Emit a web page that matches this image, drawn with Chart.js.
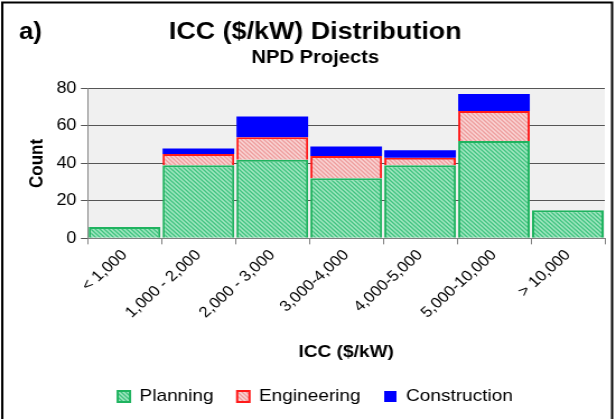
<!DOCTYPE html>
<html>
<head>
<meta charset="utf-8">
<script src="https://cdn.jsdelivr.net/npm/chart.js@4"></script>
<style>
  html, body { margin: 0; padding: 0; background: #fff; overflow: hidden; }
  /* the reference is a horizontally stretched figure: draw narrower, then stretch */
  #wrap { width: 549px; height: 419px; position: relative; transform: scaleX(1.12); transform-origin: 0 0; }
</style>
</head>
<body>
<div id="wrap"><canvas id="myChart"></canvas></div>
<script>
const categories = ['< 1,000', '1,000 - 2,000', '2,000 - 3,000', '3,000-4,000', '4,000-5,000', '5,000-10,000', '> 10,000'];
const planning = [6, 39, 42, 32, 39, 52, 15];
const engineering = [0, 6, 12, 12, 4, 16, 0];
const construction = [0, 3, 11, 5, 4, 9, 0];

function hatch(base, line) {
  const c = document.createElement('canvas');
  c.width = 4; c.height = 4;
  const g = c.getContext('2d');
  g.fillStyle = base;
  g.fillRect(0, 0, 4, 4);
  g.strokeStyle = line;
  g.lineWidth = 1.3;
  g.beginPath();
  g.moveTo(-1, -1); g.lineTo(5, 5);
  g.moveTo(3, -1); g.lineTo(5, 1);
  g.moveTo(-1, 3); g.lineTo(1, 5);
  g.stroke();
  return g.createPattern(c, 'repeat');
}

const greenHatch = hatch('#a4e8c2', '#3fc27f');
const redHatch = hatch('#fad6d6', '#ee9c9c');

const frame = {
  id: 'frame',
  beforeDraw(chart) {
    const { ctx, chartArea } = chart;
    ctx.save();
    ctx.fillStyle = '#f0f0f0';
    ctx.fillRect(chartArea.left, chartArea.top, chartArea.right - chartArea.left, chartArea.bottom - chartArea.top);
    ctx.restore();
  },
  afterDraw(chart) {
    const { ctx } = chart;
    ctx.save();
    ctx.strokeStyle = '#000';
    ctx.lineWidth = 2;
    ctx.strokeRect(2, 2.5, 544.5, 430);
    ctx.fillStyle = '#000';
    ctx.font = 'bold 23px "Liberation Sans", Arial, sans-serif';
    ctx.textBaseline = 'middle';
    ctx.fillText('a)', 17, 33);
    ctx.restore();
  }
};

Chart.defaults.font.family = '"Liberation Sans", Arial, sans-serif';
Chart.defaults.color = '#000';

new Chart(document.getElementById('myChart'), {
  type: 'bar',
  data: {
    labels: categories,
    datasets: [
      {
        label: 'Planning',
        data: planning,
        backgroundColor: greenHatch,
        borderColor: '#1fb35f',
        borderWidth: 2,
        barPercentage: 0.97,
        categoryPercentage: 1
      },
      {
        label: 'Engineering',
        data: engineering,
        backgroundColor: redHatch,
        borderColor: '#ff1a1a',
        borderWidth: 2,
        barPercentage: 0.97,
        categoryPercentage: 1
      },
      {
        label: 'Construction',
        data: construction,
        backgroundColor: '#0000ff',
        borderColor: '#0000ff',
        borderWidth: 0,
        barPercentage: 0.97,
        categoryPercentage: 1
      }
    ]
  },
  options: {
    responsive: true,
    maintainAspectRatio: false,
    animation: false,
    layout: { padding: { left: 23, right: 9, top: 0, bottom: 4 } },
    scales: {
      x: {
        stacked: true,
        grid: { display: true, drawOnChartArea: false, color: '#808080', tickLength: 6, offset: true },
        border: { color: '#808080' },
        ticks: { font: { size: 15 }, maxRotation: 45, minRotation: 45, padding: 2 },
        title: { display: true, text: 'ICC ($/kW)', font: { size: 17, weight: 'bold' }, padding: { top: 19, bottom: 4 } }
      },
      y: {
        stacked: true,
        min: 0, max: 80,
        ticks: { stepSize: 20, font: { size: 16 }, padding: 4 },
        grid: { color: '#555', tickLength: 6 },
        border: { color: '#808080' },
        title: { display: true, text: 'Count', font: { size: 17, weight: 'bold' }, padding: { top: 0, bottom: 3 } }
      }
    },
    plugins: {
      title: { display: true, text: 'ICC ($/kW) Distribution', font: { size: 24, weight: 'bold' }, padding: { top: 18, bottom: 0 } },
      subtitle: { display: true, text: 'NPD Projects', font: { size: 18, weight: 'bold' }, color: '#000', padding: { top: 0, bottom: 20 } },
      legend: {
        position: 'bottom',
        labels: { boxWidth: 11, boxHeight: 11, font: { size: 17 }, padding: 21 }
      },
      tooltip: { enabled: false }
    }
  },
  plugins: [frame]
});
</script>
</body>
</html>
